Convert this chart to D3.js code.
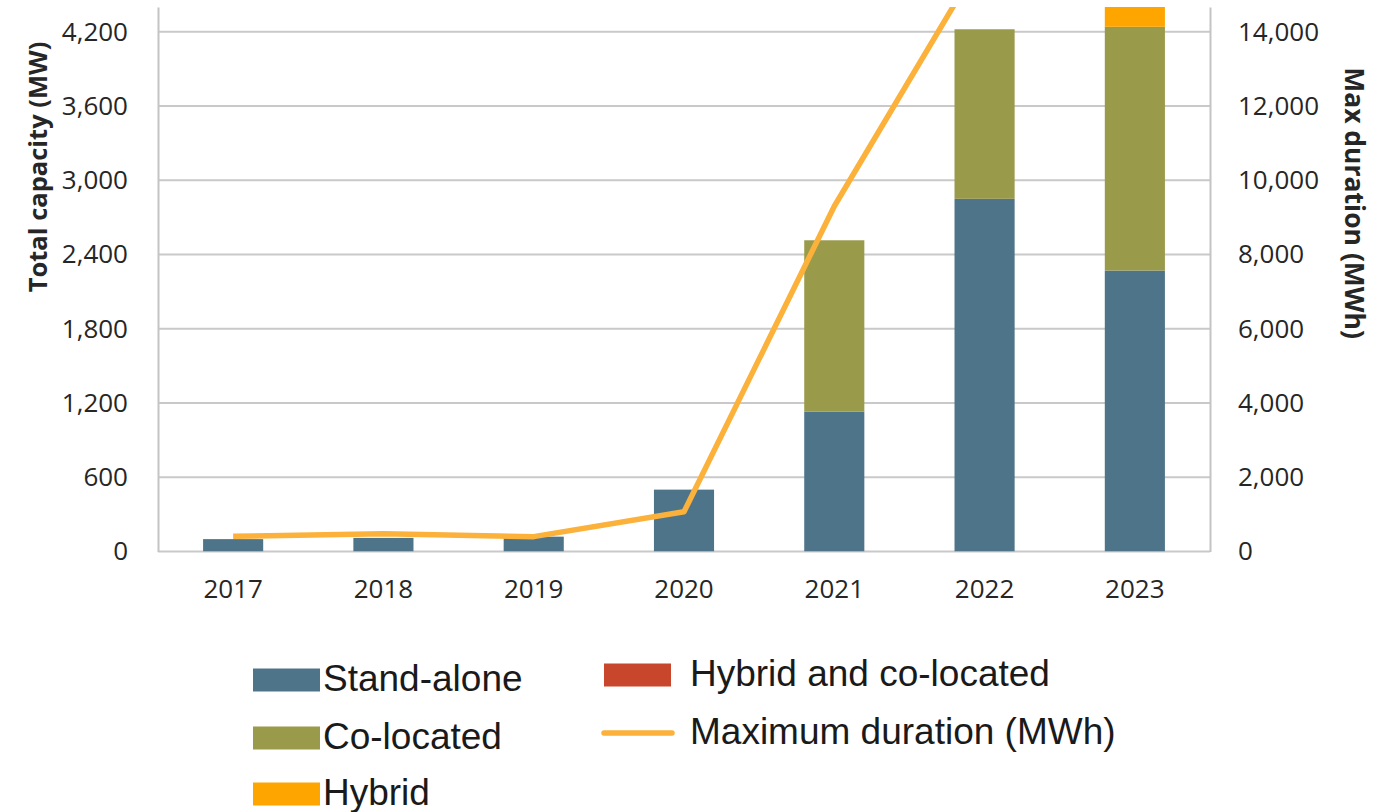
<!DOCTYPE html>
<html>
<head>
<meta charset="utf-8">
<script src="https://cdn.jsdelivr.net/npm/d3@7"></script>
<style>
  html, body { margin: 0; padding: 0; background: #ffffff; }
  svg { display: block; }
</style>
</head>
<body>
<svg id="chart" width="1388" height="812"></svg>
<script>
// Battery storage projects by year: capacity stacks (MW) and maximum duration (MWh)
const years = ["2017", "2018", "2019", "2020", "2021", "2022", "2023"];
const standAlone = [100, 110, 120, 500, 1130, 2850, 2270];
const coLocated = [0, 0, 0, 0, 1385, 1370, 1970];
const hybrid = [0, 0, 0, 0, 0, 0, 300];
const hybridCoLocated = [0, 0, 0, 0, 0, 0, 0];
const maxDuration = [410, 480, 400, 1070, 9300, 16100, 17500];

const capacityTicks = [0, 600, 1200, 1800, 2400, 3000, 3600, 4200];
const durationTicks = [0, 2000, 4000, 6000, 8000, 10000, 12000, 14000];

const seriesKeys = ["standAlone", "coLocated", "hybrid", "hybridCoLocated"];
const seriesLabels = {
  standAlone: "Stand-alone",
  coLocated: "Co-located",
  hybrid: "Hybrid",
  hybridCoLocated: "Hybrid and co-located"
};
const colors = {
  standAlone: "#4e7489",
  coLocated: "#999a4a",
  hybrid: "#ffa500",
  hybridCoLocated: "#c8462b",
  line: "#fbb13a"
};

const rows = years.map((y, i) => ({
  year: y,
  standAlone: standAlone[i],
  coLocated: coLocated[i],
  hybrid: hybrid[i],
  hybridCoLocated: hybridCoLocated[i]
}));

const svg = d3.select("#chart");
const plot = { left: 158, right: 1210, top: 7, bottom: 551.5 };

const x = d3.scaleBand().domain(years).range([plot.left, plot.right])
  .paddingInner(0.6).paddingOuter(0.3);
const yL = d3.scaleLinear().domain([0, 4400]).range([plot.bottom, plot.top]);
const yR = d3.scaleLinear().domain([0, 4400 / 0.3]).range([plot.bottom, plot.top]);

const tickFont = "'Open Sans', 'Segoe UI', sans-serif";
const textColor = "#262626";

svg.append("defs").append("clipPath").attr("id", "plot-clip")
  .append("rect")
  .attr("x", plot.left).attr("y", plot.top)
  .attr("width", plot.right - plot.left).attr("height", plot.bottom - plot.top);

// Horizontal gridlines from the capacity axis
svg.append("g")
  .selectAll("line")
  .data(capacityTicks)
  .join("line")
  .attr("x1", plot.left).attr("x2", plot.right)
  .attr("y1", d => yL(d)).attr("y2", d => yL(d))
  .attr("stroke", "#c9c9c9").attr("stroke-width", 2.2);

// Left capacity axis
const leftAxis = svg.append("g")
  .attr("transform", `translate(${plot.left},0)`)
  .call(d3.axisLeft(yL).tickValues(capacityTicks).tickFormat(d3.format(",")).tickSize(0).tickPadding(30));
leftAxis.select(".domain").attr("stroke", "#c4c4c4").attr("stroke-width", 2);
leftAxis.selectAll("text")
  .attr("font-family", tickFont).attr("font-size", 26).attr("fill", textColor);

// Right duration axis
const rightAxis = svg.append("g")
  .attr("transform", `translate(${plot.right},0)`)
  .call(d3.axisRight(yR).tickValues(durationTicks).tickFormat(d3.format(",")).tickSize(0).tickPadding(28));
rightAxis.select(".domain").attr("stroke", "#c4c4c4").attr("stroke-width", 2);
rightAxis.selectAll("text")
  .attr("font-family", tickFont).attr("font-size", 26).attr("fill", textColor);

// Category axis
const bottomAxis = svg.append("g")
  .attr("transform", `translate(0,${plot.bottom})`)
  .call(d3.axisBottom(x).tickSize(0).tickPadding(28));
bottomAxis.select(".domain").remove();
bottomAxis.selectAll("text")
  .attr("font-family", tickFont).attr("font-size", 26).attr("fill", textColor);

// Stacked capacity bars
const stack = d3.stack().keys(seriesKeys)(rows);
const plotArea = svg.append("g").attr("clip-path", "url(#plot-clip)");
plotArea.selectAll("g.series")
  .data(stack)
  .join("g")
  .attr("class", "series")
  .attr("fill", d => colors[d.key])
  .selectAll("rect")
  .data(d => d)
  .join("rect")
  .attr("x", d => x(d.data.year))
  .attr("width", x.bandwidth())
  .attr("y", d => yL(d[1]))
  .attr("height", d => Math.max(0, yL(d[0]) - yL(d[1])));

// Maximum duration line on the right axis
const line = d3.line()
  .x((d, i) => x(years[i]) + x.bandwidth() / 2)
  .y(d => yR(d));
plotArea.append("path")
  .datum(maxDuration)
  .attr("d", line)
  .attr("fill", "none")
  .attr("stroke", colors.line)
  .attr("stroke-width", 5.5)
  .attr("stroke-linejoin", "round")
  .attr("stroke-linecap", "butt");

// Axis titles
svg.append("text")
  .attr("transform", "translate(47,167) rotate(-90)")
  .attr("text-anchor", "middle")
  .attr("font-family", tickFont).attr("font-weight", 700).attr("font-size", 25.5)
  .attr("fill", textColor)
  .text("Total capacity (MW)");

svg.append("text")
  .attr("transform", "translate(1345,203) rotate(90)")
  .attr("text-anchor", "middle")
  .attr("font-family", tickFont).attr("font-weight", 700).attr("font-size", 26.5)
  .attr("fill", textColor)
  .text("Max duration (MWh)");

// Legend
const legendFont = "'Liberation Sans', Arial, sans-serif";
const legendItems = [
  { key: "standAlone", type: "rect", x: 253, y: 680 },
  { key: "coLocated", type: "rect", x: 253, y: 738 },
  { key: "hybrid", type: "rect", x: 253, y: 794 },
  { key: "hybridCoLocated", type: "rect", x: 604, y: 675 },
  { key: "line", type: "line", x: 604, y: 733 }
];
const legend = svg.append("g");
legendItems.forEach(item => {
  if (item.type === "rect") {
    legend.append("rect")
      .attr("x", item.x).attr("y", item.y - 11.5)
      .attr("width", 67).attr("height", 23)
      .attr("fill", colors[item.key]);
  } else {
    legend.append("line")
      .attr("x1", item.x).attr("x2", item.x + 68)
      .attr("y1", item.y).attr("y2", item.y)
      .attr("stroke", colors.line).attr("stroke-width", 5.5)
      .attr("stroke-linecap", "round");
  }
  const label = item.type === "line" ? "Maximum duration (MWh)" : seriesLabels[item.key];
  legend.append("text")
    .attr("x", item.x + (item.type === "line" ? 86 : (item.key === "hybridCoLocated" ? 86 : 70)))
    .attr("y", item.y + 11)
    .attr("font-family", legendFont).attr("font-size", 37)
    .attr("fill", "#1a1a1a")
    .text(label);
});
</script>
</body>
</html>
